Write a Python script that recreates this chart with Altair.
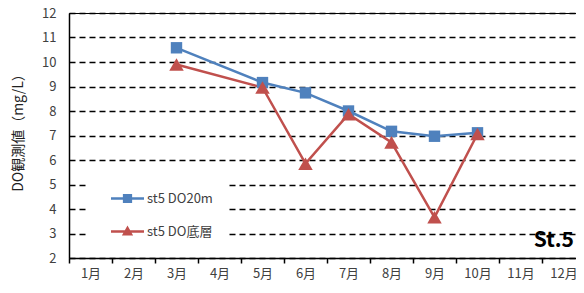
import altair as alt
import pandas as pd

months = ["1月", "2月", "3月", "4月", "5月", "6月", "7月", "8月", "9月", "10月", "11月", "12月"]
obs_months = ["3月", "5月", "6月", "7月", "8月", "9月", "10月"]
series_names = ["st5 DO20m", "st5 DO底層"]
do_20m = [10.58, 9.16, 8.74, 8.0, 7.17, 6.97, 7.11]
do_bottom = [9.9, 8.96, 5.85, 7.87, 6.72, 3.66, 7.06]
series_colors = ["#4F81BD", "#C0504D"]
y_ticks = [2, 3, 4, 5, 6, 7, 8, 9, 10, 11, 12]
y_title = "DO観測値（mg/L）"
station_label = "St.5"

# legend symbols: a line with the marker on it
legend_paths = [
    "M-1,-0.08H1V0.08H-1Z M-0.28,-0.28H0.28V0.28H-0.28Z",
    "M-1,-0.08H1V0.08H-1Z M0,-0.36L0.34,0.24H-0.34Z",
]

rows = []
for i, m in enumerate(obs_months):
    rows.append({"month": m, "value": do_20m[i], "series": series_names[0], "k": i})
for i, m in enumerate(obs_months):
    rows.append({"month": m, "value": do_bottom[i], "series": series_names[1], "k": i})
df = pd.DataFrame(rows)
legend_df = pd.DataFrame({"series": series_names})

FONT = "Noto Sans CJK JP"

x_enc = alt.X(
    "month:N",
    sort=months,
    scale=alt.Scale(type="band", domain=months, paddingInner=0, paddingOuter=0),
    axis=alt.Axis(
        title=None, labelAngle=0, tickBand="extent", grid=False,
        domainColor="black", domainWidth=1.5, tickColor="black", tickSize=5, tickWidth=1.5,
        labelFontSize=13, labelColor="#404040", labelFont=FONT, labelPadding=4,
    ),
)
y_enc = alt.Y(
    "value:Q",
    scale=alt.Scale(domain=[2, 12], nice=False, zero=False),
    axis=alt.Axis(
        values=y_ticks, title=y_title, grid=True, gridColor="black", gridDash=[6, 4],
        gridWidth=1.5, domainColor="black", domainWidth=1.5, ticks=False,
        labelFontSize=13, labelColor="#404040", labelFont=FONT, labelPadding=13,
        titleFont=FONT, titleFontSize=14, titleFontWeight="normal", titleColor="#202020",
        titlePadding=16, titleY=116,
    ),
)

is_first = alt.datum.series == series_names[0]

lines = alt.Chart(df).mark_line(strokeWidth=2.5).encode(
    x=x_enc, y=y_enc,
    stroke=alt.condition(is_first, alt.value(series_colors[0]), alt.value(series_colors[1])),
    detail="series:N",
    order="k:Q",
)

points = alt.Chart(df).mark_point(filled=True, opacity=1).encode(
    x=x_enc, y=y_enc,
    fill=alt.condition(is_first, alt.value(series_colors[0]), alt.value(series_colors[1])),
    shape=alt.condition(is_first, alt.value("square"), alt.value("triangle-up")),
    size=alt.condition(is_first, alt.value(130), alt.value(210)),
)

legend_cfg = dict(
    title=None, orient="none", legendX=17, legendY=157, padding=12, symbolOffset=13,
    fillColor="white", strokeColor="white", symbolSize=1089, labelOffset=3, rowPadding=9,
    labelFontSize=13, labelColor="#404040", labelFont=FONT, symbolStrokeWidth=0,
    symbolOpacity=1,
)
# legend-only layer: its marks sit outside the drawing, only the legend shows
legend_layer = alt.Chart(legend_df).mark_point(filled=True).encode(
    x=alt.value(-300), y=alt.value(-300),
    color=alt.Color("series:N", scale=alt.Scale(domain=series_names, range=series_colors),
                    legend=alt.Legend(**legend_cfg)),
    shape=alt.Shape("series:N", scale=alt.Scale(domain=series_names, range=legend_paths),
                    legend=alt.Legend(**legend_cfg)),
)

label_df = pd.DataFrame({"label": [station_label]})
station = alt.Chart(label_df).mark_text(
    align="right", baseline="alphabetic", fontSize=21, fontWeight="bold", font=FONT, color="black"
).encode(text="label:N", x=alt.value(505), y=alt.value(234))

chart = alt.layer(lines, points, legend_layer, station).properties(
    width=516, height=245,
    autosize=alt.AutoSizeParams(type="none"),
    padding={"left": 61, "top": 5, "right": -9, "bottom": 27},
).configure_view(stroke="black", strokeWidth=1)

chart.save("out.html", embed_options={"renderer": "svg", "actions": False})
